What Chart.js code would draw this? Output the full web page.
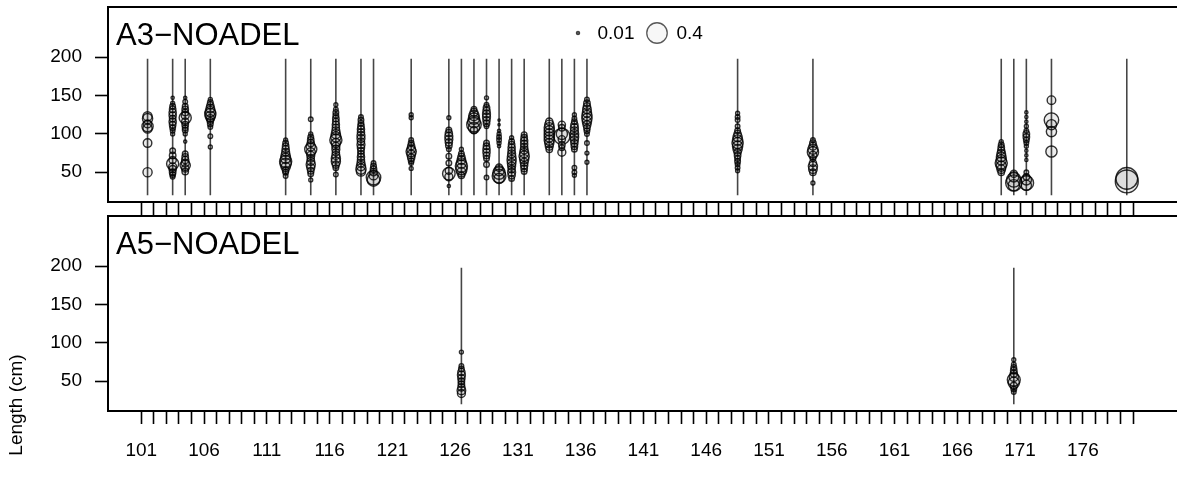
<!DOCTYPE html>
<html>
<head>
<meta charset="utf-8">
<title>Length composition bubbles</title>
<script src="https://cdn.jsdelivr.net/npm/chart.js@4.4.1/dist/chart.umd.min.js"></script>
<style>
    body { margin: 0; background: #fff; }
    #wrap { position: relative; width: 1177px; height: 482px; }
    canvas { position: absolute; left: 0; }
</style>
</head>
<body>
<div id="wrap">
    <canvas id="a3Chart" width="1177" height="216" style="top:0"></canvas>
    <canvas id="a5Chart" width="1177" height="274" style="top:208px"></canvas>
</div>
<script>
// fleet A3-NOADEL: column position, length bins (cm) and proportions
const a3Time = [101.5, 103.5, 104.5, 106.5, 112.5, 114.5, 116.5, 118.5, 119.5, 122.5,
    125.5, 126.5, 127.5, 128.5, 129.5, 130.5, 131.5, 133.5, 134.5, 135.5,
    136.5, 148.5, 154.5, 169.5, 170.5, 171.5, 173.5, 179.5];
const a3Length = [
    [50, 88, 107, 110, 113, 120, 123],
    [147, 140, 136, 132, 128, 124, 120, 116, 112, 108, 104, 100, 78, 72, 66, 61, 57, 54, 50, 47, 44],
    [147, 142, 136, 132, 128, 124, 121, 116, 112, 108, 105, 100, 90, 74, 70, 66, 62, 59, 55, 51],
    [145, 141, 137, 133, 129, 126, 123, 120, 117, 113, 109, 97, 83],
    [92, 88, 84, 80, 76, 72, 68, 64, 61, 57, 53, 50, 45],
    [119, 100, 96, 92, 88, 84, 80, 76, 72, 68, 64, 60, 56, 52, 48, 40],
    [138, 132, 128, 124, 120, 116, 112, 108, 104, 100, 96, 92, 88, 84, 80, 76, 72, 68, 64, 60, 56, 47],
    [122, 118, 114, 110, 106, 102, 98, 94, 90, 86, 82, 78, 74, 70, 66, 62, 58, 54, 51],
    [62, 58, 54, 50, 46, 43, 40],
    [125, 121, 92, 88, 84, 80, 77, 73, 69, 65, 62, 55],
    [121, 105, 101, 97, 93, 89, 85, 80, 71, 62, 52, 48, 44, 32],
    [80, 74, 70, 66, 62, 58, 54, 50, 46],
    [132, 128, 124, 120, 116, 112, 108, 105],
    [147, 138, 134, 130, 126, 122, 118, 114, 110, 88, 84, 80, 76, 72, 68, 60, 43],
    [118, 112, 104, 100, 96, 92, 88, 84, 56, 52, 49, 45, 42],
    [95, 90, 86, 82, 78, 74, 70, 66, 62, 58, 54, 50, 46, 42],
    [99, 95, 91, 87, 83, 79, 75, 71, 67, 63, 59, 55, 51],
    [116, 112, 108, 104, 100, 96, 92, 88, 84, 80],
    [112, 108, 100, 97, 93, 86, 82, 76],
    [125, 120, 116, 112, 108, 104, 100, 96, 92, 88, 84, 80, 56, 50, 46],
    [145, 140, 136, 132, 128, 124, 120, 116, 112, 108, 104, 100, 88, 75, 63],
    [127, 122, 118, 110, 104, 100, 96, 92, 88, 84, 80, 76, 72, 68, 64, 60, 56, 52],
    [92, 88, 84, 80, 76, 72, 68, 62, 58, 54, 50, 36],
    [90, 86, 82, 78, 74, 70, 66, 62, 58, 54, 50],
    [48, 44, 40, 36, 33],
    [128, 122, 116, 110, 104, 100, 96, 92, 88, 84, 78, 72, 66, 50, 44, 40, 36, 33],
    [144, 118, 112, 103, 77],
    [42, 38]
];
const a3Prop = [
    [0.08, 0.07, 0.08, 0.12, 0.06, 0.1, 0.08],
    [0.01, 0.015, 0.03, 0.04, 0.05, 0.05, 0.04, 0.05, 0.04, 0.03, 0.02, 0.015, 0.03, 0.04, 0.05, 0.14, 0.06, 0.05, 0.04, 0.03, 0.02],
    [0.01, 0.02, 0.03, 0.04, 0.04, 0.06, 0.14, 0.05, 0.04, 0.03, 0.03, 0.015, 0.01, 0.03, 0.04, 0.05, 0.06, 0.1, 0.05, 0.04],
    [0.015, 0.03, 0.05, 0.07, 0.1, 0.12, 0.1, 0.06, 0.04, 0.03, 0.02, 0.02, 0.015],
    [0.015, 0.03, 0.04, 0.05, 0.06, 0.08, 0.1, 0.14, 0.12, 0.08, 0.04, 0.03, 0.02],
    [0.02, 0.015, 0.03, 0.04, 0.05, 0.08, 0.14, 0.08, 0.06, 0.05, 0.06, 0.08, 0.06, 0.04, 0.03, 0.015],
    [0.015, 0.02, 0.03, 0.03, 0.04, 0.04, 0.05, 0.05, 0.06, 0.08, 0.1, 0.14, 0.08, 0.06, 0.06, 0.05, 0.06, 0.08, 0.08, 0.05, 0.03, 0.02],
    [0.02, 0.03, 0.03, 0.04, 0.05, 0.05, 0.06, 0.06, 0.05, 0.06, 0.05, 0.04, 0.04, 0.05, 0.05, 0.06, 0.08, 0.1, 0.08],
    [0.02, 0.03, 0.04, 0.05, 0.08, 0.2, 0.15],
    [0.015, 0.015, 0.02, 0.03, 0.05, 0.07, 0.1, 0.07, 0.05, 0.03, 0.02, 0.015],
    [0.015, 0.03, 0.05, 0.06, 0.06, 0.05, 0.04, 0.02, 0.03, 0.03, 0.05, 0.15, 0.06, 0.01],
    [0.015, 0.03, 0.05, 0.07, 0.1, 0.14, 0.12, 0.08, 0.04],
    [0.03, 0.06, 0.1, 0.12, 0.15, 0.2, 0.12, 0.05],
    [0.015, 0.02, 0.04, 0.05, 0.06, 0.06, 0.05, 0.04, 0.02, 0.03, 0.04, 0.05, 0.05, 0.04, 0.03, 0.03, 0.02],
    [0.005, 0.005, 0.01, 0.015, 0.02, 0.02, 0.015, 0.01, 0.05, 0.1, 0.15, 0.18, 0.1],
    [0.015, 0.03, 0.04, 0.05, 0.05, 0.06, 0.07, 0.08, 0.07, 0.06, 0.05, 0.06, 0.05, 0.03],
    [0.03, 0.04, 0.05, 0.05, 0.05, 0.06, 0.08, 0.1, 0.08, 0.06, 0.05, 0.04, 0.03],
    [0.05, 0.08, 0.1, 0.1, 0.1, 0.1, 0.1, 0.08, 0.06, 0.04],
    [0.05, 0.04, 0.12, 0.25, 0.05, 0.04, 0.03, 0.06],
    [0.015, 0.02, 0.03, 0.05, 0.06, 0.06, 0.07, 0.07, 0.06, 0.05, 0.04, 0.03, 0.02, 0.02, 0.015],
    [0.02, 0.04, 0.05, 0.07, 0.08, 0.1, 0.1, 0.08, 0.06, 0.04, 0.03, 0.02, 0.02, 0.015, 0.015],
    [0.015, 0.02, 0.02, 0.02, 0.03, 0.05, 0.08, 0.1, 0.12, 0.1, 0.08, 0.05, 0.04, 0.03, 0.03, 0.02, 0.02, 0.015],
    [0.02, 0.04, 0.06, 0.1, 0.12, 0.06, 0.03, 0.05, 0.08, 0.07, 0.04, 0.015],
    [0.015, 0.03, 0.04, 0.05, 0.07, 0.09, 0.1, 0.14, 0.1, 0.07, 0.04],
    [0.05, 0.1, 0.2, 0.25, 0.12],
    [0.01, 0.01, 0.01, 0.015, 0.02, 0.04, 0.04, 0.03, 0.02, 0.015, 0.01, 0.01, 0.01, 0.02, 0.04, 0.1, 0.2, 0.1],
    [0.07, 0.2, 0.1, 0.1, 0.12],
    [0.45, 0.5]
];

// fleet A5-NOADEL
const a5Time = [126.5, 170.5];
const a5Length = [
    [88, 70, 66, 62, 58, 54, 50, 46, 42, 38, 34],
    [78, 72, 68, 64, 60, 56, 52, 48, 44, 40, 36]
];
const a5Prop = [
    [0.015, 0.02, 0.03, 0.05, 0.06, 0.05, 0.04, 0.04, 0.05, 0.07, 0.06],
    [0.015, 0.02, 0.03, 0.04, 0.05, 0.08, 0.16, 0.12, 0.05, 0.03, 0.02]
];

const lineBins = [20, 198];          // length range of each sampled column
const yTicks = [50, 100, 150, 200];
const xLabels = [101, 106, 111, 116, 121, 126, 131, 136, 141, 146, 151, 156, 161, 166, 171, 176];
const xTickFirst = 101;
const xTickLast = 180;
const legendProps = [0.01, 0.4];

const bubbleScale = 16.2;
const FONT = "'Liberation Sans', Arial, Helvetica, sans-serif";
const bubbleBorder = 'rgba(0,0,0,0.8)';
const bubbleFill = 'rgba(0,0,0,0.07)';

Chart.defaults.font.family = FONT;
Chart.defaults.color = '#000';

const radius = p => bubbleScale * Math.sqrt(p);

const panelDecor = {
    id: 'panelDecor',
    afterDraw(chart, args, opts) {
        const { ctx, chartArea } = chart;
        ctx.save();
        ctx.fillStyle = '#000';
        ctx.font = '31px ' + FONT;
        ctx.textBaseline = 'alphabetic';
        ctx.fillText(opts.label, chartArea.left + 8, chartArea.top + 37.7);

        if (opts.legend) {
            ctx.font = '19px ' + FONT;
            ctx.textBaseline = 'middle';
            const cy = chartArea.top + 26;
            const xs = [578, 657];
            const tx = [597.5, 676.5];
            legendProps.forEach((p, i) => {
                ctx.beginPath();
                ctx.arc(xs[i], cy, radius(p), 0, Math.PI * 2);
                ctx.fillStyle = p < 0.05 ? 'rgba(60,60,60,0.8)' : 'rgba(0,0,0,0.03)';
                ctx.fill();
                ctx.strokeStyle = 'rgba(0,0,0,0.65)';
                ctx.lineWidth = 1.3;
                ctx.stroke();
                ctx.fillStyle = '#000';
                ctx.fillText(String(p), tx[i], cy + 1);
            });
        }
        if (opts.ylab) {
            ctx.font = '19px ' + FONT;
            ctx.translate(17, opts.ylabY);
            ctx.rotate(-Math.PI / 2);
            ctx.textAlign = 'center';
            ctx.textBaseline = 'middle';
            ctx.fillText(opts.ylab, 0, 0);
        }
        ctx.restore();
    }
};

function noPad(axis) {
    axis.paddingTop = 0;
    axis.paddingBottom = 0;
    axis.paddingLeft = 0;
    axis.paddingRight = 0;
}

function makePanel(canvasId, times, lengths, props, opts) {
    const datasets = [];
    const pts = [];
    times.forEach((t, i) => {
        lengths[i].forEach((len, j) => pts.push({ x: t, y: len, r: radius(props[i][j]) }));
    });
    datasets.push({
        type: 'bubble',
        data: pts,
        borderColor: bubbleBorder,
        backgroundColor: bubbleFill,
        borderWidth: 1.4,
        order: 1
    });
    times.forEach(t => {
        datasets.push({
            type: 'line',
            data: lineBins.map(b => ({ x: t, y: b })),
            borderColor: 'rgba(50,50,50,0.9)',
            borderWidth: 1.6,
            pointRadius: 0,
            order: 2
        });
    });

    const tickMarks = [];
    for (let v = xTickFirst; v <= xTickLast; v++) tickMarks.push({ value: v });

    return new Chart(document.getElementById(canvasId), {
        type: 'bubble',
        data: { datasets },
        plugins: [panelDecor],
        options: {
            responsive: false,
            animation: false,
            events: [],
            layout: { autoPadding: false, padding: { top: opts.padTop, left: 0, right: 0, bottom: 0 } },
            plugins: {
                legend: { display: false },
                tooltip: { enabled: false },
                panelDecor: opts
            },
            scales: {
                x: {
                    type: 'linear',
                    min: 98.35,
                    max: 183.5,
                    afterBuildTicks: axis => { axis.ticks = tickMarks.slice(); },
                    afterFit: axis => { axis.height = opts.xHeight; noPad(axis); },
                    ticks: {
                        autoSkip: false,
                        maxRotation: 0,
                        padding: 15,
                        font: { size: 19 },
                        callback: v => (opts.xLabels && xLabels.includes(v)) ? String(v) : ''
                    },
                    grid: { drawOnChartArea: false, drawTicks: true, tickLength: 13, tickWidth: 1.6, tickColor: '#000' },
                    border: { display: true, color: '#000', width: 2 }
                },
                xTop: {
                    type: 'linear',
                    position: 'top',
                    afterFit: axis => { axis.height = 0; noPad(axis); },
                    ticks: { display: false },
                    grid: { display: false, drawTicks: false, drawOnChartArea: false },
                    border: { display: true, color: '#000', width: 2 }
                },
                y: {
                    type: 'linear',
                    min: 11.2,
                    max: 265.5,
                    afterBuildTicks: axis => { axis.ticks = yTicks.map(v => ({ value: v })); },
                    afterFit: axis => { axis.width = 108; noPad(axis); },
                    ticks: { padding: 13, font: { size: 19 } },
                    grid: { drawOnChartArea: false, drawTicks: true, tickLength: 13, tickWidth: 1.6, tickColor: '#000' },
                    border: { display: true, color: '#000', width: 2 }
                }
            }
        }
    });
}

makePanel('a3Chart', a3Time, a3Length, a3Prop, {
    label: 'A3\u2212NOADEL', legend: true, padTop: 7, xHeight: 14, xLabels: false
});
makePanel('a5Chart', a5Time, a5Length, a5Prop, {
    label: 'A5\u2212NOADEL', legend: false, padTop: 8, xHeight: 71, xLabels: true,
    ylab: 'Length (cm)', ylabY: 197
});
</script>
</body>
</html>
